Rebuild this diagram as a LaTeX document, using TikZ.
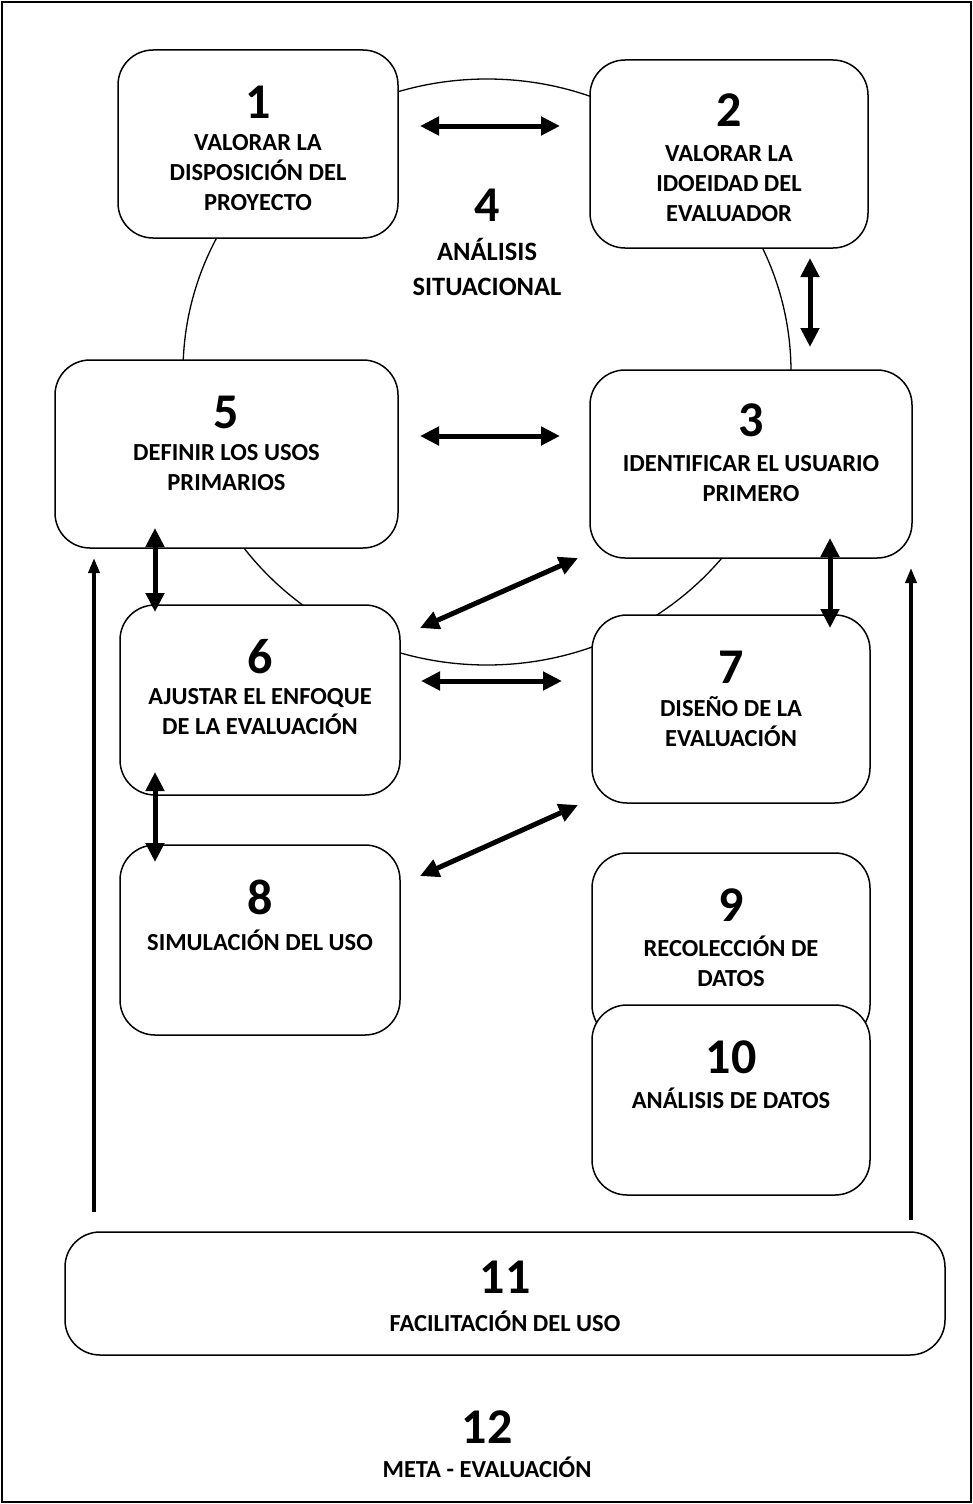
\documentclass[tikz,border=0pt]{standalone}
\usepackage{fontspec}
\setmainfont{Carlito}
\usetikzlibrary{arrows.meta}

\begin{document}
\begin{tikzpicture}[x=1pt,y=-1pt,
  stepbox/.style={draw, line width=1.5pt, rounded corners=35pt, fill=white, inner sep=0pt},
  num/.style={font=\fontsize{50}{50}\selectfont\bfseries, inner sep=0pt},
  lbl/.style={font=\fontsize{24.5}{30}\selectfont\bfseries, align=center, inner sep=0pt},
  biglbl/.style={font=\fontsize{26.5}{35}\selectfont\bfseries, align=center, inner sep=0pt},
  dbl/.style={line width=5pt, {Triangle[width=18pt,length=19pt]}-{Triangle[width=18pt,length=19pt]}},
  upline/.style={line width=3.5pt, -{Triangle[width=11pt,length=15pt]}}]

\useasboundingbox (0,0) rectangle (973,1504);
\draw[line width=1.5pt] (2,2) rectangle (971,1502);

% cycle of the situational analysis
\draw[line width=1.3pt] (487,372) ellipse [x radius=304, y radius=293];

% central label
\node[num] (n4) at (487,205) {4};
\node[biglbl] (t4) at (487,267) {ANÁLISIS\\SITUACIONAL};

% step boxes
\node[stepbox, minimum width=280pt, minimum height=188pt] (b1) at (258,144) {};
\node[stepbox, minimum width=278pt, minimum height=188pt] (b2) at (729,154) {};
\node[stepbox, minimum width=343pt, minimum height=188pt] (b5) at (226.5,454) {};
\node[stepbox, minimum width=322pt, minimum height=188pt] (b3) at (751,464) {};
\node[stepbox, minimum width=280pt, minimum height=190pt] (b6) at (260,700) {};
\node[stepbox, minimum width=278pt, minimum height=188pt] (b7) at (731,709) {};
\node[stepbox, minimum width=280pt, minimum height=190pt] (b8) at (260,940) {};
\node[stepbox, minimum width=278pt, minimum height=187pt] (b9) at (731,946.5) {};
\node[stepbox, minimum width=278pt, minimum height=190pt] (b10) at (731,1100) {};
\node[stepbox, minimum width=880pt, minimum height=123pt] (b11) at (505,1293.5) {};

% box texts
\node[num] (n1) at (258,102) {1};
\node[lbl] (t1) at (258,173) {VALORAR LA\\DISPOSICIÓN DEL\\PROYECTO};
\node[num] (n2) at (729,110) {2};
\node[lbl] (t2) at (729,184) {VALORAR LA\\IDOEIDAD DEL\\EVALUADOR};
\node[num] (n5) at (226.5,412) {5};
\node[lbl] (t5) at (226.5,467.5) {DEFINIR LOS USOS\\PRIMARIOS};
\node[num] (n3) at (751,420) {3};
\node[lbl] (t3) at (751,478.5) {IDENTIFICAR EL USUARIO\\PRIMERO};
\node[num] (n6) at (260,657) {6};
\node[lbl] (t6) at (260,712) {AJUSTAR EL ENFOQUE\\DE LA EVALUACIÓN};
\node[num] (n7) at (731,667) {7};
\node[lbl] (t7) at (731,722) {DISEÑO DE LA\\EVALUACIÓN};
\node[num] (n8) at (260,897) {8};
\node[lbl] (t8) at (260,940) {SIMULACIÓN DEL USO};
\node[num] (n9) at (731,905) {9};
\node[lbl] (t9) at (731,961) {RECOLECCIÓN DE\\DATOS};
\node[num] (n10) at (731,1057) {10};
\node[lbl] (t10) at (731,1098) {ANÁLISIS DE DATOS};
\node[num] (n11) at (505,1277) {11};
\node[lbl] (t11) at (505,1321) {FACILITACIÓN DEL USO};

% meta-evaluation label
\node[num] (n12) at (487,1427) {12};
\node[lbl] (t12) at (487,1467) {META - EVALUACIÓN};

% arrow end points
\coordinate (a12l) at (420,126);  \coordinate (a12r) at (560,126);
\coordinate (a23t) at (810,258);  \coordinate (a23b) at (810,347);
\coordinate (a53l) at (420,436);  \coordinate (a53r) at (560,436);
\coordinate (a56t) at (155,528);  \coordinate (a56b) at (155,612);
\coordinate (a36l) at (420,628);  \coordinate (a36r) at (578,558);
\coordinate (a37t) at (830,538);  \coordinate (a37b) at (830,628);
\coordinate (a67l) at (421,681);  \coordinate (a67r) at (562,681);
\coordinate (a68t) at (155,772);  \coordinate (a68b) at (155,862);
\coordinate (a78l) at (420,876);  \coordinate (a78r) at (578,805);
\coordinate (upLs) at (94,1212);  \coordinate (upLe) at (94,558);
\coordinate (upRs) at (911,1220); \coordinate (upRe) at (911,568);

% connectors
\draw[dbl] (a12l) -- (a12r);
\draw[dbl] (a23t) -- (a23b);
\draw[dbl] (a53l) -- (a53r);
\draw[dbl] (a56t) -- (a56b);
\draw[dbl] (a36l) -- (a36r);
\draw[dbl] (a37t) -- (a37b);
\draw[dbl] (a67l) -- (a67r);
\draw[dbl] (a68t) -- (a68b);
\draw[dbl] (a78l) -- (a78r);
\draw[upline] (upLs) -- (upLe);
\draw[upline] (upRs) -- (upRe);
\end{tikzpicture}
\end{document}
